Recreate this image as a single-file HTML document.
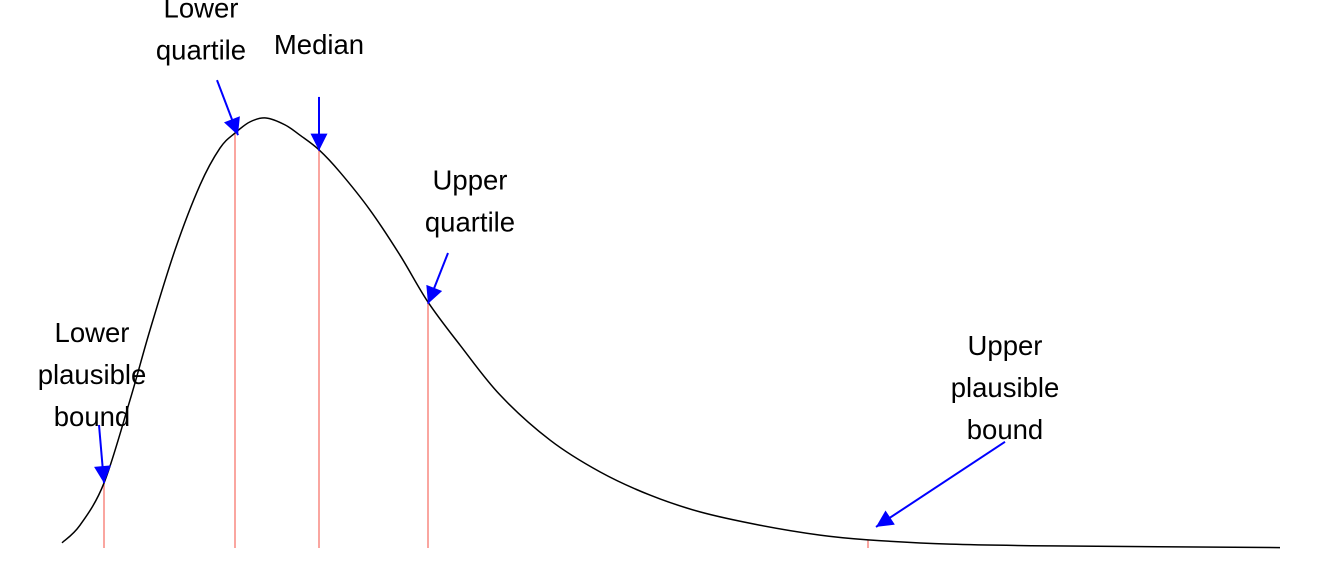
<!DOCTYPE html>
<html><head><meta charset="utf-8"><style>
html,body{margin:0;padding:0;background:#fff;}
svg{display:block;font-family:"Liberation Sans",sans-serif;}
</style></head><body>
<svg id="chart" width="1344" height="576" viewBox="0 0 1344 576" xmlns="http://www.w3.org/2000/svg">
<defs><marker id="ah" viewBox="0 0 10 10" refX="10" refY="5" markerWidth="10" markerHeight="8.5" orient="auto" markerUnits="strokeWidth"><path d="M0,0 L10,5 L0,10 z" fill="#0000ff"/></marker></defs>
<g id="marks"></g>
</svg>
<script>
const curveX=[0,1.8,4.2,6.8,8.8,11.3,13.8,15.8,17.3,18.8,20.4,22.3,23.8,25.7,27.8,30.8,33.8,36.6,39.8,43.8,48.8,53.8,58.8,63.8,69.8,75.8,80.6,88.8,98.8,121.8];
const curveY=[0.012,0.053,0.151,0.344,0.507,0.693,0.844,0.930,0.965,0.991,1.0,0.984,0.960,0.926,0.874,0.786,0.681,0.572,0.472,0.356,0.251,0.177,0.123,0.084,0.053,0.030,0.019,0.009,0.005,0.001];
const markerNames=["lower-plausible-bound","lower-quartile","median","upper-quartile","upper-plausible-bound"];
const markerX=[4.2,17.3,25.7,36.6,80.6];
const labelLines=[["Lower","plausible","bound"],["Lower","quartile"],["Median"],["Upper","quartile"],["Upper","plausible","bound"]];
const labelX=[3.0,13.9,25.7,40.8,94.3];
const labelY=[0.479,1.234,1.149,0.834,0.449];
const arrowFromX=[3.7,15.5,25.7,38.6,94.3];
const arrowFromY=[0.286,1.088,1.049,0.686,0.247];
const arrowToX=[4.2,17.6,25.7,36.6,81.4];
const arrowToY=[0.151,0.960,0.924,0.568,0.049];

const sx=v=>62+v*10, sy=v=>548-v*430;
const g=document.getElementById('marks');
const NS='http://www.w3.org/2000/svg';
function interp(x){for(let i=1;i<curveX.length;i++){if(x<=curveX[i]){const t=(x-curveX[i-1])/(curveX[i]-curveX[i-1]);return curveY[i-1]+t*(curveY[i]-curveY[i-1]);}}return curveY[curveY.length-1];}
markerX.forEach((x,i)=>{
 const l=document.createElementNS(NS,'line');
 l.setAttribute('x1',sx(x));l.setAttribute('x2',sx(x));l.setAttribute('y1',548);l.setAttribute('y2',sy(interp(x)));
 l.setAttribute('stroke','#f8766d');l.setAttribute('stroke-width','1.3');
 
 
 g.appendChild(l);
});
const pts=curveX.map((x,i)=>[sx(x),sy(curveY[i])]);
let d='M'+pts[0][0]+','+pts[0][1];
for(let i=0;i<pts.length-1;i++){const p0=pts[i-1]||pts[i],p1=pts[i],p2=pts[i+1],p3=pts[i+2]||p2;
 d+=' C'+(p1[0]+(p2[0]-p0[0])/6)+','+(p1[1]+(p2[1]-p0[1])/6)+' '+(p2[0]-(p3[0]-p1[0])/6)+','+(p2[1]-(p3[1]-p1[1])/6)+' '+p2[0]+','+p2[1];}
const c=document.createElementNS(NS,'path');
c.setAttribute('d',d);c.setAttribute('fill','none');c.setAttribute('stroke','#000');c.setAttribute('stroke-width','1.5');


g.appendChild(c);
markerX.forEach((x,i)=>{
 const a=document.createElementNS(NS,'line');
 a.setAttribute('x1',sx(arrowFromX[i]));a.setAttribute('y1',sy(arrowFromY[i]));
 a.setAttribute('x2',sx(arrowToX[i]));a.setAttribute('y2',sy(arrowToY[i]));
 a.setAttribute('stroke','#0000ff');a.setAttribute('stroke-width','2');a.setAttribute('marker-end','url(#ah)');
 
 
 g.appendChild(a);
 const t=document.createElementNS(NS,'text');
 t.setAttribute('x',sx(labelX[i]));t.setAttribute('y',sy(labelY[i]));
 t.setAttribute('text-anchor','middle');t.setAttribute('font-size','27.5');t.setAttribute('fill','#000');
 
 
 labelLines[i].forEach((s,j)=>{const ts=document.createElementNS(NS,'tspan');ts.setAttribute('x',sx(labelX[i]));ts.setAttribute('dy',j?42:0);ts.textContent=s;t.appendChild(ts);});
 g.appendChild(t);
});
</script>
</body></html>
